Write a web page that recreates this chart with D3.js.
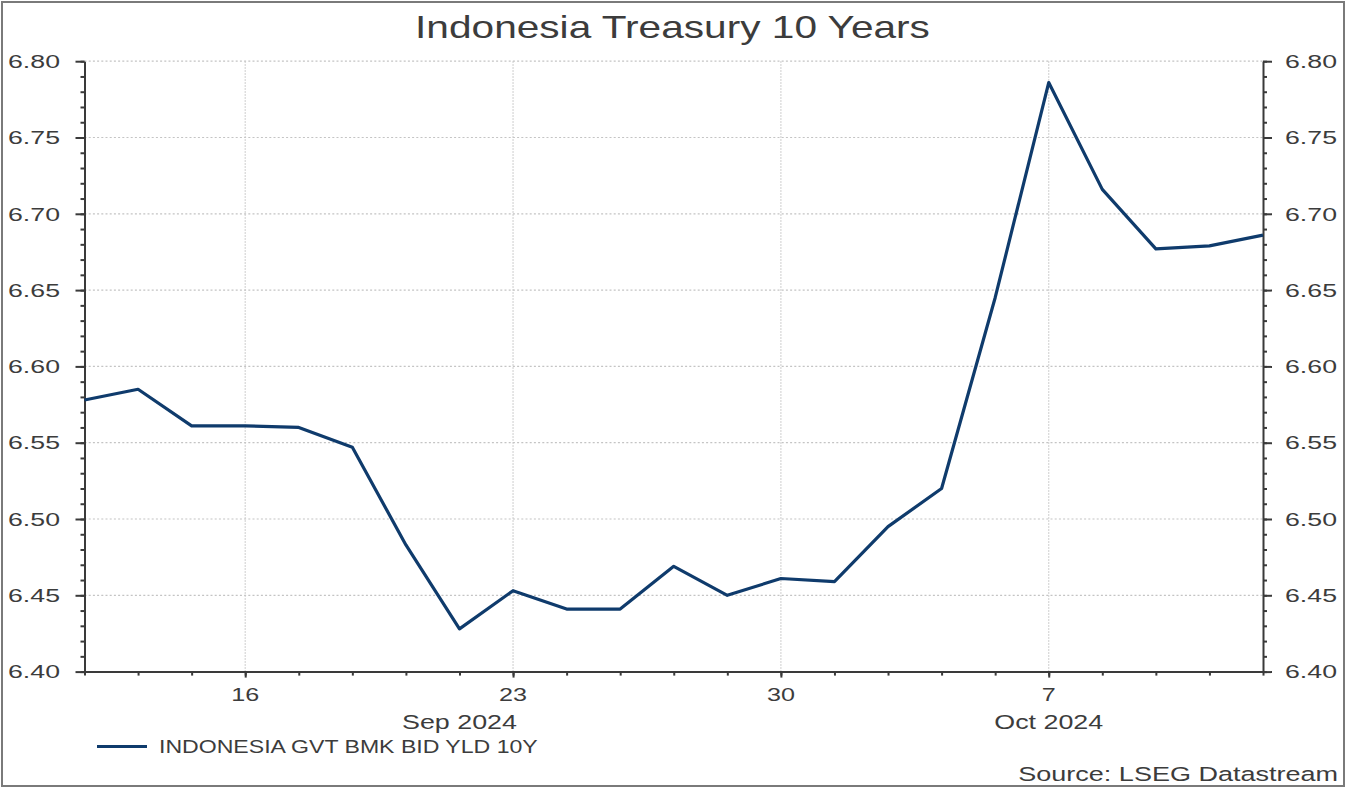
<!DOCTYPE html>
<html>
<head>
<meta charset="utf-8">
<script src="https://cdn.jsdelivr.net/npm/d3@7"></script>
<style>
  html, body { margin: 0; padding: 0; background: #fff; }
  svg { display: block; }
  text { font-family: "Liberation Sans", Arial, sans-serif; fill: #3c3c3c; }
</style>
</head>
<body>
<svg id="chart" width="1347" height="789"></svg>
<script>
// ---- data ----
const dates = ["2024-09-11","2024-09-12","2024-09-13","2024-09-16","2024-09-17","2024-09-18","2024-09-19","2024-09-20",
               "2024-09-23","2024-09-24","2024-09-25","2024-09-26","2024-09-27","2024-09-30","2024-10-01","2024-10-02",
               "2024-10-03","2024-10-04","2024-10-07","2024-10-08","2024-10-09","2024-10-10","2024-10-11"];
const yields = [6.578,6.585,6.561,6.561,6.560,6.547,6.483,6.428,
                6.453,6.441,6.441,6.469,6.450,6.461,6.459,6.495,
                6.520,6.645,6.786,6.716,6.677,6.679,6.686];
const xTickDates = ["2024-09-16","2024-09-23","2024-09-30","2024-10-07"];
const xTickLabels = ["16","23","30","7"];
const monthDates = ["2024-09-20","2024-10-07"];
const monthLabels = ["Sep 2024","Oct 2024"];
const yMajorTicks = [6.40,6.45,6.50,6.55,6.60,6.65,6.70,6.75,6.80];
const yMinorTicks = d3.range(640,681,1).map(v => v/100);
const title = "Indonesia Treasury 10 Years";
const seriesName = "INDONESIA GVT BMK BID YLD 10Y";
const sourceText = "Source: LSEG Datastream";

// ---- layout ----
const W = 1347, H = 789;
const P = {left: 84.5, right: 1263, top: 61.2, bottom: 671.6};
const axisColor = "#3a3a3a";
const lineColor = "#0f3b6c";

const svg = d3.select("#chart");
const x = d3.scalePoint().domain(dates).range([P.left, P.right]);
const y = d3.scaleLinear().domain([6.40, 6.80]).range([P.bottom, P.top]);

// outer frame
svg.append("rect").attr("x",2).attr("y",2).attr("width",W-5).attr("height",H-5)
  .attr("fill","none").attr("stroke","#7a7a7a").attr("stroke-width",2);

// stretched text helper
function stretchedText(g, str, px, py, size, anchor, sx) {
  const t = g.append("text").text(str).attr("font-size", size).attr("text-anchor", anchor)
    .attr("transform", `translate(${px},${py}) scale(${sx},1)`);
  return t;
}
function measure(str, size) {
  const t = svg.append("text").text(str).attr("font-size", size);
  const w = t.node().getComputedTextLength();
  t.remove();
  return w;
}

// gridlines
const grid = svg.append("g");
grid.selectAll("line.h").data(yMajorTicks.filter(v => v > 6.40)).join("line")
  .attr("x1", P.left).attr("x2", P.right).attr("y1", d => y(d)).attr("y2", d => y(d))
  .attr("stroke", "#c4c4c4").attr("stroke-width", 1.2).attr("stroke-dasharray", "2,2.2");
grid.selectAll("line.v").data(xTickDates).join("line")
  .attr("x1", d => x(d)).attr("x2", d => x(d)).attr("y1", P.top).attr("y2", P.bottom)
  .attr("stroke", "#c8c8c8").attr("stroke-width", 1.2).attr("stroke-dasharray", "1.5,1.5");

// axes
function styleAxis(g) {
  g.select(".domain").attr("stroke", axisColor).attr("stroke-width", 2);
  g.selectAll(".tick line").attr("stroke", axisColor).attr("stroke-width", 2);
  g.selectAll(".tick text").remove();
}
svg.append("g").attr("transform", `translate(0,${P.bottom})`)
  .call(d3.axisBottom(x).tickValues(dates).tickSize(4).tickSizeOuter(0).tickFormat(""))
  .call(styleAxis);
svg.append("g").attr("transform", `translate(0,${P.bottom})`)
  .call(d3.axisBottom(x).tickValues(xTickDates).tickSize(6).tickSizeOuter(0).tickFormat(""))
  .call(styleAxis).select(".domain").remove();

svg.append("g").attr("transform", `translate(${P.left},0)`)
  .call(d3.axisLeft(y).tickValues(yMinorTicks).tickSize(4).tickSizeOuter(0).tickFormat(""))
  .call(styleAxis);
svg.append("g").attr("transform", `translate(${P.left},0)`)
  .call(d3.axisLeft(y).tickValues(yMajorTicks).tickSize(9).tickSizeOuter(0).tickFormat(""))
  .call(styleAxis).select(".domain").remove();
svg.append("g").attr("transform", `translate(${P.right},0)`)
  .call(d3.axisRight(y).tickValues(yMinorTicks).tickSize(4).tickSizeOuter(0).tickFormat(""))
  .call(styleAxis);
svg.append("g").attr("transform", `translate(${P.right},0)`)
  .call(d3.axisRight(y).tickValues(yMajorTicks).tickSize(9).tickSizeOuter(0).tickFormat(""))
  .call(styleAxis).select(".domain").remove();

// labels
const labels = svg.append("g");
const ySize = 17.5, ySx = 52 / measure("6.80", ySize);
yMajorTicks.forEach(v => {
  stretchedText(labels, v.toFixed(2), 60, y(v) + 6.7, ySize, "end", ySx);
  stretchedText(labels, v.toFixed(2), 1285, y(v) + 6.7, ySize, "start", ySx);
});
const xSize = 19, xSx = 28 / measure("23", xSize);
xTickDates.forEach((d, i) => stretchedText(labels, xTickLabels[i], x(d), 700.5, xSize, "middle", xSx));
const mSize = 19.5, mSx = 115 / measure("Sep 2024", mSize);
monthDates.forEach((d, i) => stretchedText(labels, monthLabels[i], x(d), 729, mSize, "middle", mSx));

// title
const tSize = 31;
stretchedText(svg, title, 672.5, 38, tSize, "middle", 515 / measure(title, tSize));

// line
svg.append("path").datum(dates.map((d, i) => [d, yields[i]]))
  .attr("fill", "none").attr("stroke", lineColor).attr("stroke-width", 3.2)
  .attr("stroke-linejoin", "round")
  .attr("d", d3.line().x(d => x(d[0])).y(d => y(d[1])));

// legend
svg.append("line").attr("x1", 97).attr("x2", 147).attr("y1", 746.5).attr("y2", 746.5)
  .attr("stroke", lineColor).attr("stroke-width", 3.2);
const lSize = 18.5;
stretchedText(svg, seriesName, 159, 752.5, lSize, "start", 379 / measure(seriesName, lSize));

// source
const sSize = 19.5;
stretchedText(svg, sourceText, 1338, 780.5, sSize, "end", 320 / measure(sourceText, sSize));
</script>
</body>
</html>
